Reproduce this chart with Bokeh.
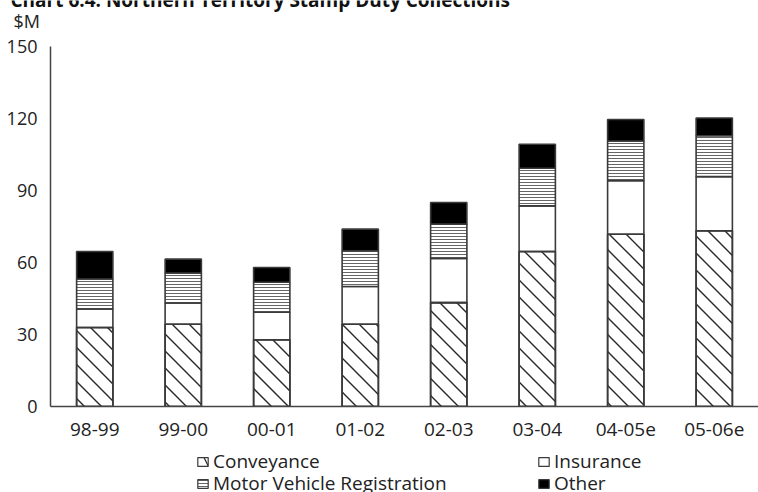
import numpy as np
from bokeh.plotting import figure
from bokeh.models import (Legend, LegendItem, Label, FactorRange, FixedTicker,
                          ColumnDataSource)
from bokeh.layouts import column
from bokeh.transform import stack
from bokeh.embed import file_html
from bokeh.resources import INLINE

# Northern Territory stamp duty collections, $M, by financial year
years = ["98-99", "99-00", "00-01", "01-02", "02-03", "03-04", "04-05e", "05-06e"]
conveyance = [32.9, 34.3, 27.8, 34.3, 43.3, 64.6, 71.8, 73.2]
insurance = [7.7, 8.8, 11.5, 15.7, 18.4, 19.0, 22.3, 22.6]
motor_vehicle = [12.5, 12.5, 12.5, 14.9, 14.3, 15.7, 16.5, 17.0]
other = [11.5, 5.8, 6.1, 9.0, 9.0, 10.0, 9.0, 7.4]
y_ticks = [0, 30, 60, 90, 120, 150]
series_names = ["Conveyance", "Insurance", "Motor Vehicle Registration", "Other"]
heading = "Chart 6.4: Northern Territory Stamp Duty Collections"

source = ColumnDataSource(dict(
    year=years, conveyance=conveyance, insurance=insurance,
    motor_vehicle=motor_vehicle, other=other,
))

FONT = "Open Sans"
EDGE = "#3a3a3a"
HATCH = "#2a2a2a"
W = 758
FRAME_W, FRAME_H = 708, 360
Y_MAX = 150
bar_w = 0.41

# visual style of each series (shared by bars and legend swatches)
styles = [
    dict(fill_color="white"),
    dict(fill_color="white"),
    dict(fill_color="white", hatch_pattern="-", hatch_scale=3,
         hatch_weight=1, hatch_color="#666666"),
    dict(fill_color="black"),
]
swatch_styles = [dict(styles[0], hatch_pattern="\\", hatch_scale=26,
                      hatch_weight=1.3, hatch_color=HATCH)] + styles[1:]


def bare(fig):
    fig.grid.visible = False
    fig.outline_line_color = None
    fig.border_fill_color = "white"


def strip(height):
    fig = figure(width=W, height=height, x_range=(0, 1), y_range=(0, 1),
                 x_axis_location=None, y_axis_location=None,
                 min_border_left=0, min_border_right=0, min_border_top=0,
                 min_border_bottom=0, output_backend="svg", toolbar_location=None)
    fig.frame_align = False
    bare(fig)
    return fig


# heading strip: the text runs off the top edge of the page
head = strip(12)
head.add_layout(Label(x=10, y=13, x_units="screen", y_units="screen", text=heading,
                      text_font=FONT, text_font_size="19px", text_font_style="bold",
                      text_color="#111111", text_baseline="alphabetic"))

# main chart
p = figure(
    x_range=FactorRange(*years, range_padding=0),
    y_range=(0, Y_MAX),
    width=W, height=434,
    min_border_left=50, min_border_right=0, min_border_top=34, min_border_bottom=40,
    output_backend="svg", toolbar_location=None,
)
bare(p)

cols = ["conveyance", "insurance", "motor_vehicle", "other"]
for i, col in enumerate(cols):
    bottom = stack(*cols[:i]) if i else 0
    p.vbar(x="year", width=bar_w, bottom=bottom, top=stack(*cols[:i + 1]),
           source=source, line_color=EDGE, line_width=1.6, **styles[i])

# 45-degree "\" hatching inside the conveyance segments, spaced 17 px apart
px_x = FRAME_W / len(years)      # pixels per category
px_y = FRAME_H / Y_MAX           # pixels per $M
gap = 17.0
x0s, y0s, x1s, y1s = [], [], [], []
for i, v in enumerate(conveyance):
    xl, xr = (i + 0.5 - bar_w / 2) * px_x, (i + 0.5 + bar_w / 2) * px_x
    yt = v * px_y
    for c in np.arange(np.floor(xl / gap) * gap, xr + yt + gap, gap):
        xs, xe = max(xl, c - yt), min(xr, c)
        if xe - xs > 0.5:
            x0s.append(xs / px_x); y0s.append((c - xs) / px_y)
            x1s.append(xe / px_x); y1s.append((c - xe) / px_y)
p.segment(x0=x0s, y0=y0s, x1=x1s, y1=y1s, line_color=HATCH, line_width=1.4)
# redraw the conveyance outline above the hatching
p.vbar(x="year", width=bar_w, bottom=0, top="conveyance", source=source,
       fill_color=None, line_color=EDGE, line_width=1.6)

for ax in (p.xaxis[0], p.yaxis[0]):
    ax.axis_line_color = "#444444"
    ax.axis_line_width = 1.5
    ax.major_tick_line_color = None
    ax.minor_tick_line_color = None
    ax.major_label_text_font = FONT
    ax.major_label_text_color = "#222222"
p.yaxis.ticker = FixedTicker(ticks=y_ticks)
p.yaxis.major_label_text_font_size = "18px"
p.yaxis.major_label_standoff = 7
p.xaxis.major_label_text_font_size = "19px"
p.xaxis.major_label_standoff = 10

p.add_layout(Label(x=-37, y=26, x_units="screen", y_units="screen", text="$M",
                   text_font=FONT, text_font_size="18px", text_color="#222222",
                   text_baseline="middle"), "above")

# legend strip, two columns of two rows; the swatch renderers have zero size
lg = strip(46)
swatch_src = ColumnDataSource(dict(x=[0.5], t=[0.0]))
swatches = [lg.vbar(x="x", top="t", bottom=0, width=0, source=swatch_src,
                    line_color=EDGE, line_width=1.2, **st) for st in swatch_styles]

legend_kw = dict(
    glyph_width=13, glyph_height=11,
    label_text_font=FONT, label_text_font_size="19px", label_text_color="#222222",
    label_standoff=4, spacing=0, padding=0, margin=0,
    border_line_color=None, background_fill_alpha=0,
)
for k, loc in zip(range(4), [(196, 18), (537, 18), (196, -4), (537, -4)]):
    lg.add_layout(Legend(
        items=[LegendItem(label=series_names[k], renderers=[swatches[k]])],
        location=loc, **legend_kw), "center")

open("out.html", "w").write(file_html(column(head, p, lg, spacing=0), INLINE))
